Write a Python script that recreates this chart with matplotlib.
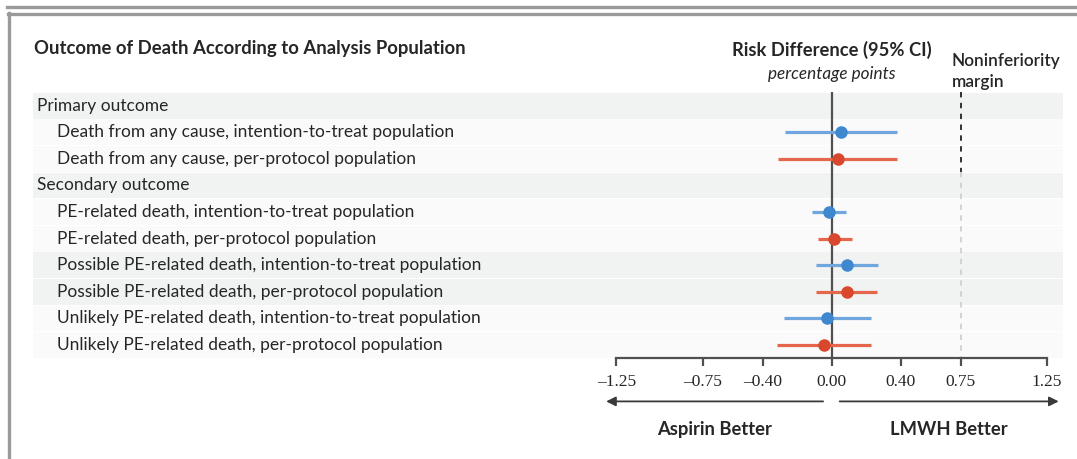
import matplotlib
matplotlib.use("Agg")
import numpy as np
import matplotlib.pyplot as plt
import matplotlib.transforms as mtransforms
from matplotlib.lines import Line2D

# rows of the forest plot (top to bottom)
row_labels = [
    "Primary outcome",
    "Death from any cause, intention-to-treat population",
    "Death from any cause, per-protocol population",
    "Secondary outcome",
    "PE-related death, intention-to-treat population",
    "PE-related death, per-protocol population",
    "Possible PE-related death, intention-to-treat population",
    "Possible PE-related death, per-protocol population",
    "Unlikely PE-related death, intention-to-treat population",
    "Unlikely PE-related death, per-protocol population",
]
row_population = ["", "itt", "pp", "", "itt", "pp", "itt", "pp", "itt", "pp"]

# risk difference, percentage points
estimate = [np.nan, 0.053, 0.037, np.nan, -0.014, 0.016, 0.087, 0.086, -0.026, -0.046]
ci_low = [np.nan, -0.27, -0.31, np.nan, -0.113, -0.082, -0.094, -0.094, -0.28, -0.32]
ci_high = [np.nan, 0.38, 0.38, np.nan, 0.081, 0.115, 0.27, 0.26, 0.226, 0.23]

x_ticks = [-1.25, -0.75, -0.40, 0.00, 0.40, 0.75, 1.25]
margin = 0.75

W, H = 1077, 459
fig = plt.figure(figsize=(W / 100, H / 100), dpi=100)
ax = fig.add_axes([32.7 / W, 1 - 358.4 / H, (1063 - 32.7) / W, (358.4 - 92.4) / H])
ax.set_xlim(-4.64, 1.343)
ax.set_ylim(len(row_labels) - 0.5, -0.5)

sans = "Lato"
text_color = "#262626"

# row bands
shaded = [1, 0, 0, 1, 0, 0, 1, 1, 0, 0]
for i, s in enumerate(shaded):
    ax.axhspan(i - 0.485, i + 0.485, color="#f1f3f3" if s else "#fafafa", lw=0, zorder=0)

# row labels
lab_tr = mtransforms.blended_transform_factory(fig.transFigure, ax.transData)
for i, (lab, pop) in enumerate(zip(row_labels, row_population)):
    xpx = 37.2 if pop == "" else 56.8
    ax.text(xpx / W, i, lab, transform=lab_tr, ha="left", va="center",
            fontsize=12.5, family=sans, color=text_color)

# noninferiority margin
split = 2.5
ax.vlines(margin, -0.5, split, color="#222222", lw=1.3, linestyles=(0, (3, 3)), zorder=2)
ax.vlines(margin, split, len(row_labels) - 0.5, color="#cfcfcf", lw=1.3,
          linestyles=(0, (3, 3)), zorder=2)

# zero line
ax.axvline(0, color="#505050", lw=1.6, zorder=3)

# estimates
colors = {"itt": ("#6ea6dd", "#3f87cf"), "pp": ("#e5664b", "#d9472c")}
for i, pop in enumerate(row_population):
    if pop == "":
        continue
    lc, dc = colors[pop]
    ax.hlines(i, ci_low[i], ci_high[i], color=lc, lw=2.3, zorder=4)
    ax.plot(estimate[i], i, "o", ms=8, color=dc, zorder=5)

# axis
for side in ["top", "left", "right"]:
    ax.spines[side].set_visible(False)
ax.spines["bottom"].set_bounds(x_ticks[0], x_ticks[-1])
ax.spines["bottom"].set_color("#505050")
ax.spines["bottom"].set_linewidth(1.6)
ax.set_yticks([])
ax.set_xticks(x_ticks)
ax.set_xticklabels([f"{v:.2f}".replace("-", "\u2013") for v in x_ticks],
                   family="Liberation Serif", fontsize=12.5, color=text_color)
ax.tick_params(axis="x", direction="out", length=6, width=1.6, color="#505050", pad=5)

# headers
top_tr = mtransforms.blended_transform_factory(ax.transData, fig.transFigure)
fig.text(34.4 / W, 1 - 48.2 / H, "Outcome of Death According to Analysis Population",
         ha="left", va="center", fontsize=13.3, weight="bold", family=sans, color=text_color)
ax.text(0, 1 - 49.7 / H, "Risk Difference (95% CI)", transform=top_tr, ha="center",
        va="center", fontsize=13.2, weight="bold", family=sans, color=text_color)
ax.text(0, 1 - 73.6 / H, "percentage points", transform=top_tr, ha="center",
        va="center", fontsize=12.3, style="italic", family=sans, color=text_color)
ax.text(0.698, 1 - 61 / H, "Noninferiority", transform=top_tr, ha="left",
        va="center", fontsize=12.4, weight="semibold", family=sans, color=text_color)
ax.text(0.698, 1 - 82.2 / H, "margin", transform=top_tr, ha="left",
        va="center", fontsize=12.4, weight="semibold", family=sans, color=text_color)

# direction arrows
arrow_y = 1 - 401.4 / H
for x0, x1 in [(-0.05, -1.31), (0.046, 1.318)]:
    ax.annotate("", xy=(x1, arrow_y), xytext=(x0, arrow_y), xycoords=top_tr,
                textcoords=top_tr, annotation_clip=False,
                arrowprops=dict(arrowstyle="-|>", color="#3a3a3a", lw=1.3,
                                mutation_scale=14, shrinkA=0, shrinkB=0))
ax.text(-0.68, 1 - 429.5 / H, "Aspirin Better", transform=top_tr, ha="center",
        va="center", fontsize=13.2, weight="bold", family=sans, color=text_color)
ax.text(0.68, 1 - 429.5 / H, "LMWH Better", transform=top_tr, ha="center",
        va="center", fontsize=13.2, weight="bold", family=sans, color=text_color)

# panel frame
frame = "#9a9a9a"
fig.add_artist(Line2D([7 / W, 1], [1 - 6.6 / H] * 2, color=frame, lw=2.4))
fig.add_artist(Line2D([8 / W, 1], [1 - 13.6 / H] * 2, color=frame, lw=2.4))
fig.add_artist(Line2D([9 / W] * 2, [1 - 12.5 / H, 0], color=frame, lw=2.4))

fig.savefig("out.png", dpi=100, facecolor="white")
